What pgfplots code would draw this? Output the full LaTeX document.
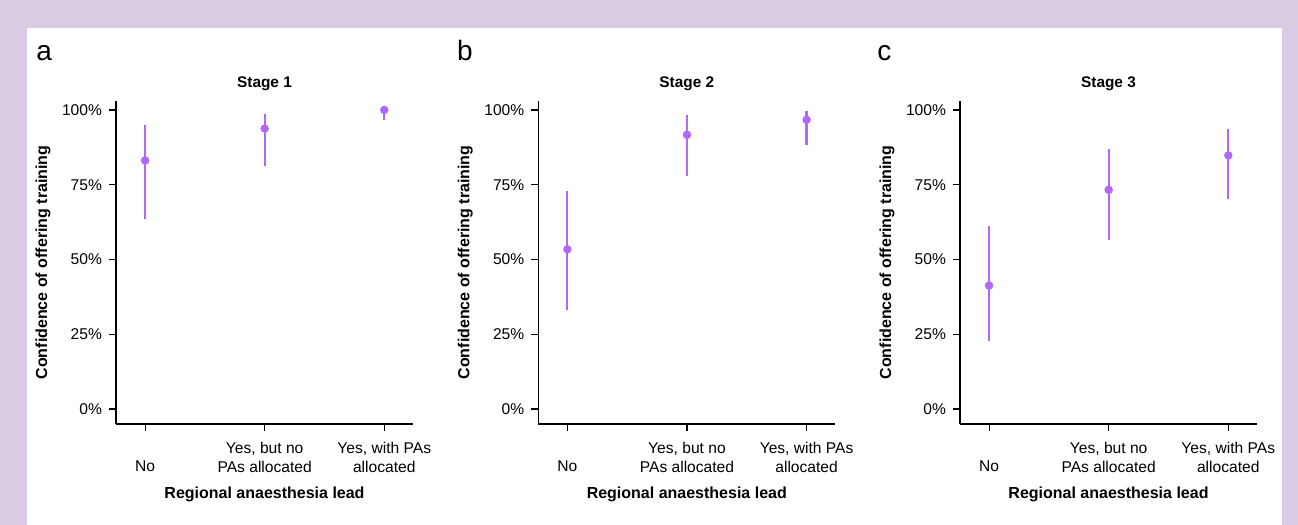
\documentclass[border=0pt]{standalone}
\usepackage{fontspec}
\setmainfont{Liberation Sans}
\usepackage{pgfplots}
\pgfplotsset{compat=1.18}
\definecolor{Frame}{HTML}{D8CBE3}
\definecolor{Pt}{HTML}{B366FA}

\pgfplotsset{stagepanel/.style={
    scale only axis,width=148.5pt,height=161.5pt,
    xmin=0.757,xmax=3.24,ymin=-5,ymax=103,
    axis x line*=bottom,axis y line*=left,
    axis line style={line width=0.55pt,black},
    tick style={line width=0.55pt,black},
    tick align=outside,major tick length=3.5pt,
    xtick={1,2,3},
    xticklabels={\vphantom{Yes}\\No,{Yes, but no\\PAs allocated},{Yes, with PAs\\allocated}},
    xticklabel style={align=center,yshift=-2pt,font=\fontsize{7.8}{9.5}\selectfont},
    ytick={0,25,50,75,100},
    yticklabels={0\%,25\%,50\%,75\%,100\%},
    yticklabel style={font=\fontsize{7.8}{9}\selectfont},
    title style={at={(0.5,1.006)},anchor=base,font=\bfseries\fontsize{7.7}{9}\selectfont},
    xlabel style={at={(0.5,-0.232)},anchor=base,font=\bfseries\fontsize{8}{9.6}\selectfont},
    ylabel style={at={(-0.2323,0.5)},anchor=base,rotate=0,font=\bfseries\fontsize{8}{9.6}\selectfont},
    xlabel={Regional anaesthesia lead},
    ylabel={Confidence of offering training},
    clip=false}}
\pgfplotsset{ci/.style={only marks,color=Pt,mark=*,mark size=1.9pt,
    error bars/.cd,y dir=both,y explicit,error mark=none,
    error bar style={line width=1.1pt,color=Pt}}}

\begin{document}
\begin{tikzpicture}
  \fill[Frame] (0pt,0pt) rectangle (649pt,262.5pt);
  \fill[white] (13.5pt,0pt) rectangle (640.75pt,248.5pt);
  \node[anchor=base west,inner sep=0pt,font=\fontsize{14}{16}\selectfont] at (18pt,232pt) {a};
  \node[anchor=base west,inner sep=0pt,font=\fontsize{14}{16}\selectfont] at (228.3pt,232pt) {b};
  \node[anchor=base west,inner sep=0pt,font=\fontsize{14}{16}\selectfont] at (438.5pt,232pt) {c};

  \begin{axis}[stagepanel,at={(58pt,50.5pt)},anchor=south west,title={Stage 1}]
    \addplot[ci] coordinates {
      (1,83.1) += (0,11.8) -= (0,19.7)
      (2,93.8) += (0,4.8)  -= (0,12.5)
      (3,100.0) += (0,0.0) -= (0,3.2)};
  \end{axis}

  \begin{axis}[stagepanel,at={(269.15pt,50.5pt)},anchor=south west,title={Stage 2}]
    \addplot[ci] coordinates {
      (1,53.4) += (0,19.4) -= (0,20.3)
      (2,91.7) += (0,6.6)  -= (0,13.8)
      (3,96.7) += (0,3.1)  -= (0,8.5)};
  \end{axis}

  \begin{axis}[stagepanel,at={(480pt,50.5pt)},anchor=south west,title={Stage 3}]
    \addplot[ci] coordinates {
      (1,41.3) += (0,20.0) -= (0,18.4)
      (2,73.3) += (0,13.7) -= (0,16.9)
      (3,84.8) += (0,9.0)  -= (0,14.6)};
  \end{axis}
\end{tikzpicture}
\end{document}
